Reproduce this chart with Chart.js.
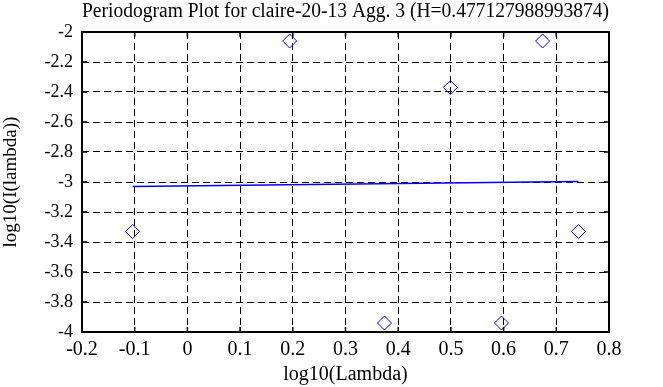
<!DOCTYPE html>
<html>
<head>
<meta charset="utf-8">
<script src="https://cdn.jsdelivr.net/npm/chart.js@4/dist/chart.umd.min.js"></script>
<style>
  body { margin: 0; background: #fff; }
  #wrap { width: 663px; height: 387px; }
</style>
</head>
<body>
<div id="wrap"><canvas id="chart"></canvas></div>
<script>
// periodogram points, log10(lambda) vs log10(I(lambda))
const lambdaX = [-0.104, 0.194, 0.374, 0.499, 0.596, 0.674, 0.742]
const periodY = [-3.33, -2.06, -3.94, -2.37, -3.94, -2.06, -3.33]

// fitted line ends
const fitX = [-0.104, 0.742]
const fitY = [-3.03, -2.997]

const titleText = "Periodogram Plot for claire-20-13 Agg. 3 (H=0.477127988993874)"
const serif = "'Liberation Serif', 'DejaVu Serif', serif"

// box round the plot plus small inward ticks, like the original
const frame = {
    id: "frame",
    afterDraw(chart) {
        const ctx = chart.ctx
        const a = chart.chartArea
        const xs = chart.scales.x, ys = chart.scales.y
        ctx.save()
        ctx.strokeStyle = "#000"
        ctx.lineWidth = 1.5
        xs.ticks.forEach(t => {
            const p = xs.getPixelForValue(t.value)
            ctx.beginPath()
            ctx.moveTo(p, a.top); ctx.lineTo(p, a.top + 5)
            ctx.moveTo(p, a.bottom); ctx.lineTo(p, a.bottom - 5)
            ctx.stroke()
        })
        ys.ticks.forEach(t => {
            const p = ys.getPixelForValue(t.value)
            ctx.beginPath()
            ctx.moveTo(a.left, p); ctx.lineTo(a.left + 5, p)
            ctx.moveTo(a.right, p); ctx.lineTo(a.right - 5, p)
            ctx.stroke()
        })
        ctx.lineWidth = 2
        ctx.strokeRect(a.left, a.top, a.right - a.left, a.bottom - a.top)
        ctx.restore()
    }
}

function fmt(v) {
    return String(Number(v.toFixed(1)))
}

new Chart(document.querySelector("#chart"), {
    type: "scatter",
    data: {
        datasets: [{
            label: "fit",
            type: "line",
            data: fitX.map((x, i) => ({x: x, y: fitY[i]})),
            borderColor: "#0000ff",
            borderWidth: 1.5,
            pointRadius: 0,
            fill: false
        }, {
            label: "periodogram",
            data: lambdaX.map((x, i) => ({x: x, y: periodY[i]})),
            pointStyle: "rectRot",
            pointRadius: 7,
            pointBorderWidth: 1,
            borderColor: "#0000ff",
            backgroundColor: "rgba(0,0,0,0)"
        }]
    },
    options: {
        responsive: true,
        maintainAspectRatio: false,
        animation: false,
        layout: { padding: { left: 0, right: 54, top: 0, bottom: 0 } },
        plugins: {
            legend: { display: false },
            tooltip: { enabled: false },
            title: {
                display: true,
                text: titleText,
                fullSize: false,
                color: "#000",
                font: { family: serif, size: 20, weight: "normal" },
                padding: { top: 0, bottom: 8 }
            }
        },
        scales: {
            x: {
                type: "linear",
                min: -0.2, max: 0.8,
                ticks: { stepSize: 0.1, color: "#000", padding: 6,
                    font: { family: serif, size: 20 }, callback: fmt },
                grid: { color: "#000", lineWidth: 1, drawTicks: false },
                border: { display: false, dash: [7, 4] },
                title: { display: true, text: "log10(Lambda)", color: "#000",
                    font: { family: serif, size: 20 }, padding: { top: 0, bottom: 0 } },
                afterFit(s) { s.height = 55 }
            },
            y: {
                type: "linear",
                min: -4, max: -2,
                ticks: { stepSize: 0.2, color: "#000", padding: 9,
                    font: { family: serif, size: 18 }, callback: fmt },
                grid: { color: "#000", lineWidth: 1, drawTicks: false },
                border: { display: false, dash: [7, 4] },
                title: { display: true, text: "log10(I(lambda))", color: "#000",
                    font: { family: serif, size: 19 }, padding: { top: 0, bottom: 0 } },
                afterFit(s) { s.width = 82 }
            }
        }
    },
    plugins: [frame]
})
</script>
</body>
</html>
